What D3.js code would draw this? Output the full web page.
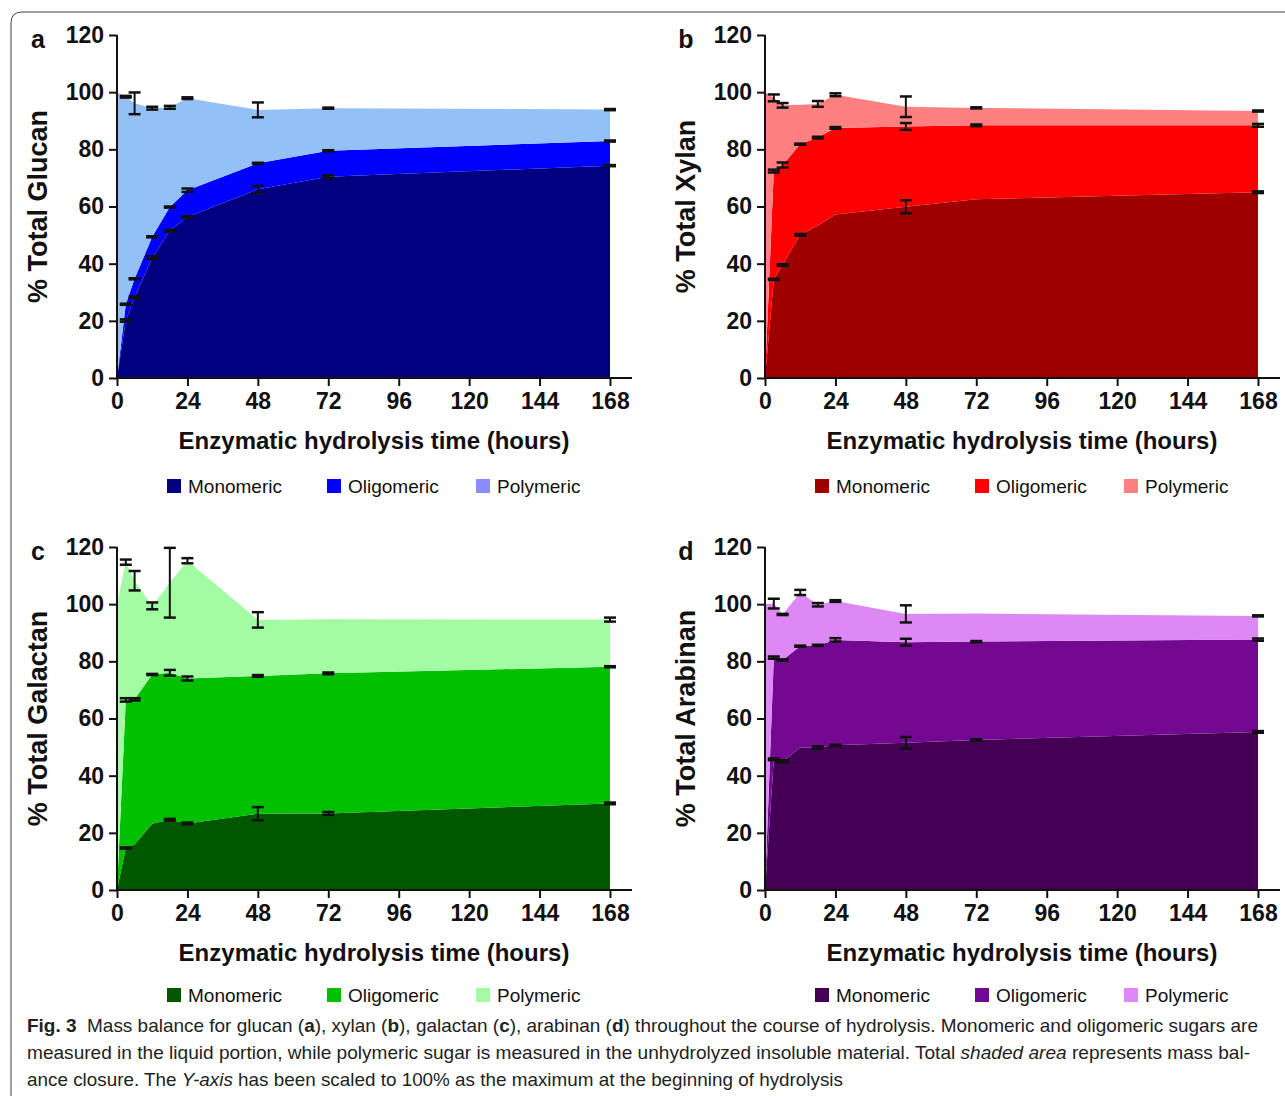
<!DOCTYPE html>
<html>
<head>
<meta charset="utf-8">
<script src="https://cdn.jsdelivr.net/npm/d3@7"></script>
<style>
  body { margin: 0; background: #fff; }
  svg { display: block; }
  .tick text { font-family: "Liberation Sans Narrow", "Liberation Sans", Arial, sans-serif; font-weight: bold; font-size: 23px; fill: #111; }
  .tick line { stroke: #111; stroke-width: 2; }
</style>
</head>
<body>
<div id="chart"></div>
<script>

// sampling times (hours)
const times = [0, 3, 6, 12, 18, 24, 48, 72, 168];
const xTicks = [0, 24, 48, 72, 96, 120, 144, 168];
const yTicks = [0, 20, 40, 60, 80, 100, 120];
const fractions = ["Monomeric", "Oligomeric", "Polymeric"];

// glucan (% of initial) - each fraction, stacked
const glucanMono  = [0, 20.1, 28.2, 42.1, 51.5, 56.3, 66.0, 70.4, 74.3];
const glucanOligo = [0, 5.7, 6.5, 7.3, 8.3, 9.4, 9.1, 9.1, 8.6];
const glucanPoly  = [100, 72.6, 61.4, 45.0, 34.9, 32.2, 18.7, 14.9, 11.0];
const glucanMonoErr  = [null, 0.4, 0.3, 0.5, 0.3, 0.3, 1.2, 0.5, 0.2];
const glucanOligoErr = [null, 0.2, 0.2, 0.2, 0.2, 0.6, 0.2, 0.2, 0.2];
const glucanPolyErr  = [null, 0.3, 3.8, 0.5, 0.5, 0.3, 2.6, 0.2, 0.2];

// xylan
const xylanMono  = [0, 34.5, 39.5, 50.1, 53.3, 57.2, 59.9, 62.5, 65.0];
const xylanOligo = [0, 37.9, 35.0, 31.7, 30.8, 30.3, 28.1, 25.9, 23.4];
const xylanPoly  = [100, 25.6, 20.9, 13.8, 11.8, 11.6, 6.9, 6.1, 5.0];
const xylanMonoErr  = [null, 0.2, 0.3, 0.3, null, null, 2.3, null, 0.3];
const xylanOligoErr = [null, 0.5, 0.9, 0.2, 0.3, 0.3, 1.2, 0.3, 0.5];
const xylanPolyErr  = [null, 1.2, 0.8, null, 1.0, 0.5, 3.6, 0.2, 0.2];

// galactan
const galactanMono  = [0, 14.7, 15.9, 23.2, 24.6, 23.3, 26.7, 26.8, 30.3];
const galactanOligo = [0, 51.8, 50.8, 52.2, 51.4, 50.7, 48.2, 49.0, 47.8];
const galactanPoly  = [100, 48.2, 41.5, 24.0, 31.5, 41.2, 19.6, 18.9, 16.5];
const galactanMonoErr  = [null, 0.2, null, null, 0.3, 0.3, 2.3, 0.5, 0.3];
const galactanOligoErr = [null, 0.6, 0.4, 0.2, 1.0, 0.7, 0.3, 0.3, 0.2];
const galactanPolyErr  = [null, 0.9, 3.4, 1.2, 12.2, 0.9, 2.7, null, 0.7];

// arabinan
const arabinanMono  = [0, 45.7, 45.0, 49.8, 49.9, 50.6, 51.5, 52.5, 55.3];
const arabinanOligo = [0, 35.6, 35.5, 35.5, 35.7, 36.9, 35.2, 34.4, 32.3];
const arabinanPoly  = [100, 18.9, 15.9, 18.8, 14.2, 13.6, 9.9, 9.8, 8.3];
const arabinanMonoErr  = [null, 0.3, 0.4, null, 0.4, 0.2, 2.0, 0.2, 0.3];
const arabinanOligoErr = [null, 0.4, 0.2, 0.2, 0.2, 0.6, 1.2, 0.2, 0.4];
const arabinanPolyErr  = [null, 1.7, 0.2, 0.9, 0.6, 0.3, 3.0, null, 0.2];

const W = 1285, H = 1096;
const svg = d3.select("#chart").append("svg")
	.attr("width", W)
	.attr("height", H);

// frame with rounded corner
svg.append("path")
	.attr("d", "M11,1100 L11,23 Q11,12 22,12 L1290,12")
	.attr("fill", "none")
	.attr("stroke", "#444")
	.attr("stroke-width", 1);

const panels = [
	{letter: "a", name: "Glucan", left: 117, bottom: 378, legendY: 486,
	 series: [glucanMono, glucanOligo, glucanPoly], errs: [glucanMonoErr, glucanOligoErr, glucanPolyErr],
	 colors: ["#000080", "#0000ff", "#92c0f7"], legendColors: ["#000080", "#0000ff", "#8c8cff"]},
	{letter: "b", name: "Xylan", left: 765, bottom: 378, legendY: 486,
	 series: [xylanMono, xylanOligo, xylanPoly], errs: [xylanMonoErr, xylanOligoErr, xylanPolyErr],
	 colors: ["#9e0000", "#ff0000", "#ff8080"], legendColors: ["#9e0000", "#ff0000", "#ff8080"]},
	{letter: "c", name: "Galactan", left: 117, bottom: 890, legendY: 995,
	 series: [galactanMono, galactanOligo, galactanPoly], errs: [galactanMonoErr, galactanOligoErr, galactanPolyErr],
	 colors: ["#005700", "#00c000", "#a3fca3"], legendColors: ["#005700", "#00c000", "#a3fca3"]},
	{letter: "d", name: "Arabinan", left: 765, bottom: 890, legendY: 995,
	 series: [arabinanMono, arabinanOligo, arabinanPoly], errs: [arabinanMonoErr, arabinanOligoErr, arabinanPolyErr],
	 colors: ["#430055", "#730891", "#dd88f5"], legendColors: ["#430055", "#730891", "#dd88f5"]}
];

const plotW = 493, plotH = 343;

panels.forEach(p => drawPanel(p));

function drawPanel(p) {
	let g = svg.append("g")
		.attr("transform", "translate(" + p.left + "," + (p.bottom - plotH) + ")");

	let x = d3.scaleLinear().domain([0, 168]).range([0, plotW]);
	let y = d3.scaleLinear().domain([0, 120]).range([plotH, 0]);

	// rows for stacking
	let rows = times.map((t, i) => ({t: t, mono: p.series[0][i], oligo: p.series[1][i], poly: p.series[2][i]}));
	let keys = ["mono", "oligo", "poly"];
	let stacked = d3.stack().keys(keys)(rows);

	let area = d3.area()
		.x(d => x(d.data.t))
		.y0(d => y(d[0]))
		.y1(d => y(d[1]));

	g.selectAll(".layer")
		.data(stacked)
		.enter()
		.append("path")
		.attr("class", "layer")
		.attr("d", area)
		.attr("fill", (d, i) => p.colors[i]);

	// error bars at the top of each layer
	let bars = [];
	stacked.forEach((layer, k) => {
		layer.forEach((d, i) => {
			let e = p.errs[k][i];
			if (e !== null) bars.push({t: d.data.t, v: d[1], e: e});
		});
	});

	let eb = g.selectAll(".errbar")
		.data(bars)
		.enter()
		.append("g")
		.attr("class", "errbar");

	eb.append("line")
		.attr("x1", d => x(d.t)).attr("x2", d => x(d.t))
		.attr("y1", d => y(d.v + d.e)).attr("y2", d => y(d.v - d.e))
		.attr("stroke", "#111").attr("stroke-width", 2);
	eb.append("line")
		.attr("x1", d => x(d.t) - 6).attr("x2", d => x(d.t) + 6)
		.attr("y1", d => y(d.v + d.e)).attr("y2", d => y(d.v + d.e))
		.attr("stroke", "#111").attr("stroke-width", 2.5);
	eb.append("line")
		.attr("x1", d => x(d.t) - 6).attr("x2", d => x(d.t) + 6)
		.attr("y1", d => y(d.v - d.e)).attr("y2", d => y(d.v - d.e))
		.attr("stroke", "#111").attr("stroke-width", 2.5);

	// axes
	let xAxis = d3.axisBottom(x).tickValues(xTicks).tickSize(8).tickPadding(7).tickSizeOuter(0);
	let yAxis = d3.axisLeft(y).tickValues(yTicks).tickSize(8).tickPadding(5).tickSizeOuter(0);

	let gx = g.append("g")
		.attr("class", "x-axis axis")
		.attr("transform", "translate(0," + plotH + ")")
		.call(xAxis);
	gx.select(".domain").remove();
	gx.append("line")
		.attr("x1", 0).attr("x2", plotW + 22)
		.attr("stroke", "#111").attr("stroke-width", 2);

	let gy = g.append("g")
		.attr("class", "y-axis axis")
		.call(yAxis);
	gy.select(".domain").remove();
	gy.append("line")
		.attr("y1", 0).attr("y2", plotH + 1)
		.attr("stroke", "#111").attr("stroke-width", 2);

	// panel letter
	g.append("text")
		.attr("x", -79).attr("y", 13)
		.attr("text-anchor", "middle")
		.style("font-family", "Liberation Sans, Arial, sans-serif")
		.style("font-weight", "bold").style("font-size", "25px")
		.attr("fill", "#111")
		.text(p.letter);

	// axis titles
	g.append("text")
		.attr("transform", "translate(-70," + (plotH / 2) + ") rotate(-90)")
		.attr("text-anchor", "middle")
		.style("font-family", "Liberation Sans, Arial, sans-serif")
		.style("font-weight", "bold").style("font-size", "27px")
		.attr("fill", "#111")
		.text("% Total " + p.name);

	g.append("text")
		.attr("x", 257).attr("y", plotH + 71)
		.attr("text-anchor", "middle")
		.style("font-family", "Liberation Sans, Arial, sans-serif")
		.style("font-weight", "bold").style("font-size", "24px")
		.attr("fill", "#111")
		.text("Enzymatic hydrolysis time (hours)");

	// legend
	let legendX = [50, 210, 359];
	let lg = svg.append("g");
	fractions.forEach((f, i) => {
		lg.append("rect")
			.attr("x", p.left + legendX[i]).attr("y", p.legendY - 7)
			.attr("width", 14).attr("height", 14)
			.attr("fill", p.legendColors[i]);
		lg.append("text")
			.attr("x", p.left + legendX[i] + 21).attr("y", p.legendY + 7)
			.style("font-family", "Liberation Sans, Arial, sans-serif")
			.style("font-size", "19px")
			.attr("fill", "#111")
			.text(f);
	});
}

// caption
const captionFont = "'Liberation Sans Narrow', 'Liberation Sans', Arial, sans-serif";
let cap1 = svg.append("text")
	.attr("x", 27).attr("y", 1032)
	.attr("textLength", 1231).attr("lengthAdjust", "spacingAndGlyphs")
	.style("font-family", captionFont).style("font-size", "19px").attr("fill", "#222");
cap1.append("tspan").style("font-weight", "bold").text("Fig. 3");
cap1.append("tspan").text("\u00a0\u00a0Mass balance for glucan (");
cap1.append("tspan").style("font-weight", "bold").text("a");
cap1.append("tspan").text("), xylan (");
cap1.append("tspan").style("font-weight", "bold").text("b");
cap1.append("tspan").text("), galactan (");
cap1.append("tspan").style("font-weight", "bold").text("c");
cap1.append("tspan").text("), arabinan (");
cap1.append("tspan").style("font-weight", "bold").text("d");
cap1.append("tspan").text(") throughout the course of hydrolysis. Monomeric and oligomeric sugars are");

let cap2 = svg.append("text")
	.attr("x", 27).attr("y", 1059)
	.attr("textLength", 1223).attr("lengthAdjust", "spacingAndGlyphs")
	.style("font-family", captionFont).style("font-size", "19px").attr("fill", "#222");
cap2.append("tspan").text("measured in the liquid portion, while polymeric sugar is measured in the unhydrolyzed insoluble material. Total ");
cap2.append("tspan").style("font-style", "italic").text("shaded area");
cap2.append("tspan").text(" represents mass bal-");

let cap3 = svg.append("text")
	.attr("x", 27).attr("y", 1086)
	.attr("textLength", 816).attr("lengthAdjust", "spacingAndGlyphs")
	.style("font-family", captionFont).style("font-size", "19px").attr("fill", "#222");
cap3.append("tspan").text("ance closure. The ");
cap3.append("tspan").style("font-style", "italic").text("Y-axis");
cap3.append("tspan").text(" has been scaled to 100% as the maximum at the beginning of hydrolysis");

</script>
</body>
</html>
